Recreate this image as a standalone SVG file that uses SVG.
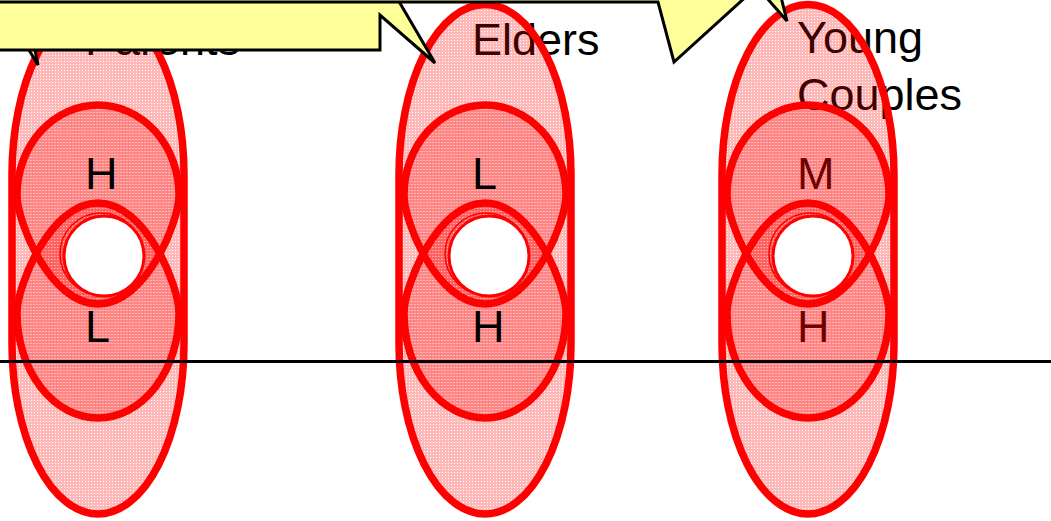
<svg xmlns="http://www.w3.org/2000/svg" width="1051" height="521" viewBox="0 0 1051 521">
<defs>
<pattern id="hatch" width="3" height="3" patternUnits="userSpaceOnUse">
<path d="M0 0h3v3h-3z M1 1v1h1v-1z" fill="#ff0000" fill-opacity="0.28" fill-rule="evenodd"/>
</pattern>
<path id="upperShape" d="M0,105 A81,90 0 0 0 -81,195 C-81,222 -48,304 0,304 C48,304 81,222 81,195 A81,90 0 0 0 0,105 Z"/>
<path id="lowerShape" d="M0,203 C-48,203 -81,286 -81,313 A81,105 0 0 0 0,418 A81,105 0 0 0 81,313 C81,286 48,203 0,203 Z"/>
<style>
.ell{fill:url(#hatch);stroke:#ff0000;stroke-width:7.5}
.hole{fill:#ffffff;stroke:#ff0000;stroke-width:3}
.ring{fill:none;stroke:#ff0000;stroke-width:1.5}
.lbl{font-family:"Liberation Sans",Arial,sans-serif;font-size:45px;fill:#000000}
.call{fill:#ffff99;stroke:#000000;stroke-width:3;stroke-linejoin:miter}
</style>
</defs>
<rect width="1051" height="521" fill="#ffffff"/>
<g id="col-parents">
<text class="lbl" x="85" y="55">Parents</text>
<rect class="ell" x="12" y="4.5" width="172" height="509.5" rx="86" ry="170"/>
<use href="#upperShape" class="ell" x="98"/>
<use href="#lowerShape" class="ell" x="98"/>
<circle class="ring" cx="101" cy="254" r="41"/>
<circle class="hole" cx="104" cy="256" r="40"/>
<text class="lbl" x="85" y="189">H</text>
<text class="lbl" x="85" y="342">L</text>
</g>
<g id="col-elders">
<text class="lbl" x="472" y="55">Elders</text>
<rect class="ell" x="399" y="4.5" width="172" height="509.5" rx="86" ry="170"/>
<use href="#upperShape" class="ell" x="485"/>
<use href="#lowerShape" class="ell" x="485"/>
<circle class="ring" cx="486" cy="254" r="41"/>
<circle class="hole" cx="489" cy="256" r="40"/>
<text class="lbl" x="472" y="189">L</text>
<text class="lbl" x="472" y="342">H</text>
</g>
<g id="col-young">
<text class="lbl" x="797" y="53">Young</text>
<text class="lbl" x="797" y="110">Couples</text>
<text class="lbl" x="797" y="189">M</text>
<text class="lbl" x="797" y="342">H</text>
<rect class="ell" x="722" y="4.5" width="172" height="509.5" rx="86" ry="170"/>
<use href="#upperShape" class="ell" x="808"/>
<use href="#lowerShape" class="ell" x="808"/>
<circle class="ring" cx="810" cy="254" r="41"/>
<circle class="hole" cx="813" cy="256" r="40"/>
</g>
<g id="connectors">
<line x1="0" y1="361.5" x2="1051" y2="361.5" stroke="#000000" stroke-width="3"/>
</g>
<g id="callout-left">
<polygon class="call" points="23,40 38,65 33,40"/>
<polygon class="call" points="-10,-40 380,-40 380,-31 435,63 380,15 380,50 -10,50"/>
</g>
<g id="callout-top">
<polygon class="call" points="-10,-60 760,-60 760,-16 674,62 658,2 -10,2"/>
</g>
<g id="callout-right">
<polygon class="call" points="766,-3 787,21 781,-3"/>
</g>
</svg>
